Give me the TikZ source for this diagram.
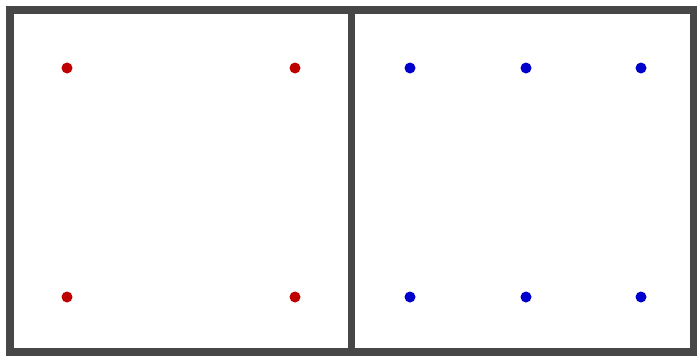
\documentclass[tikz,border=0pt]{standalone}
\usepackage{xcolor}
\usetikzlibrary{
    positioning
}

\begin{document}
\begin{tikzpicture}[
    panel/.style={
        rectangle,
        draw=black!72,
        line width=4.5pt,
        minimum width=6.84cm,
        minimum height=6.84cm,
        fill=white,
        inner sep=0pt
    },
    reddot/.style={
        circle,
        fill=red!75!black,
        minimum size=0.22cm,
        inner sep=0pt
    },
    bluedot/.style={
        circle,
        fill=blue!80!black,
        minimum size=0.22cm,
        inner sep=0pt
    }
]

\useasboundingbox[fill=white] (0,0) rectangle (14,7.18);

% =========================================================
% Two panels
% =========================================================
\node[panel] (leftpanel) at (3.62,3.56) {};
\node[panel] (rightpanel) at (10.45,3.56) {};

% =========================================================
% Red points, left panel
% =========================================================
\node[reddot] (r1) at (1.34,5.82) {};
\node[reddot] (r2) at (5.90,5.82) {};
\node[reddot] (r3) at (1.34,1.24) {};
\node[reddot] (r4) at (5.90,1.24) {};

% =========================================================
% Blue points, right panel
% =========================================================
\foreach \x/\n in {8.20/1, 10.52/2, 12.82/3} {
    \node[bluedot] (bt\n) at (\x,5.82) {};
    \node[bluedot] (bb\n) at (\x,1.24) {};
}

\end{tikzpicture}
\end{document}
